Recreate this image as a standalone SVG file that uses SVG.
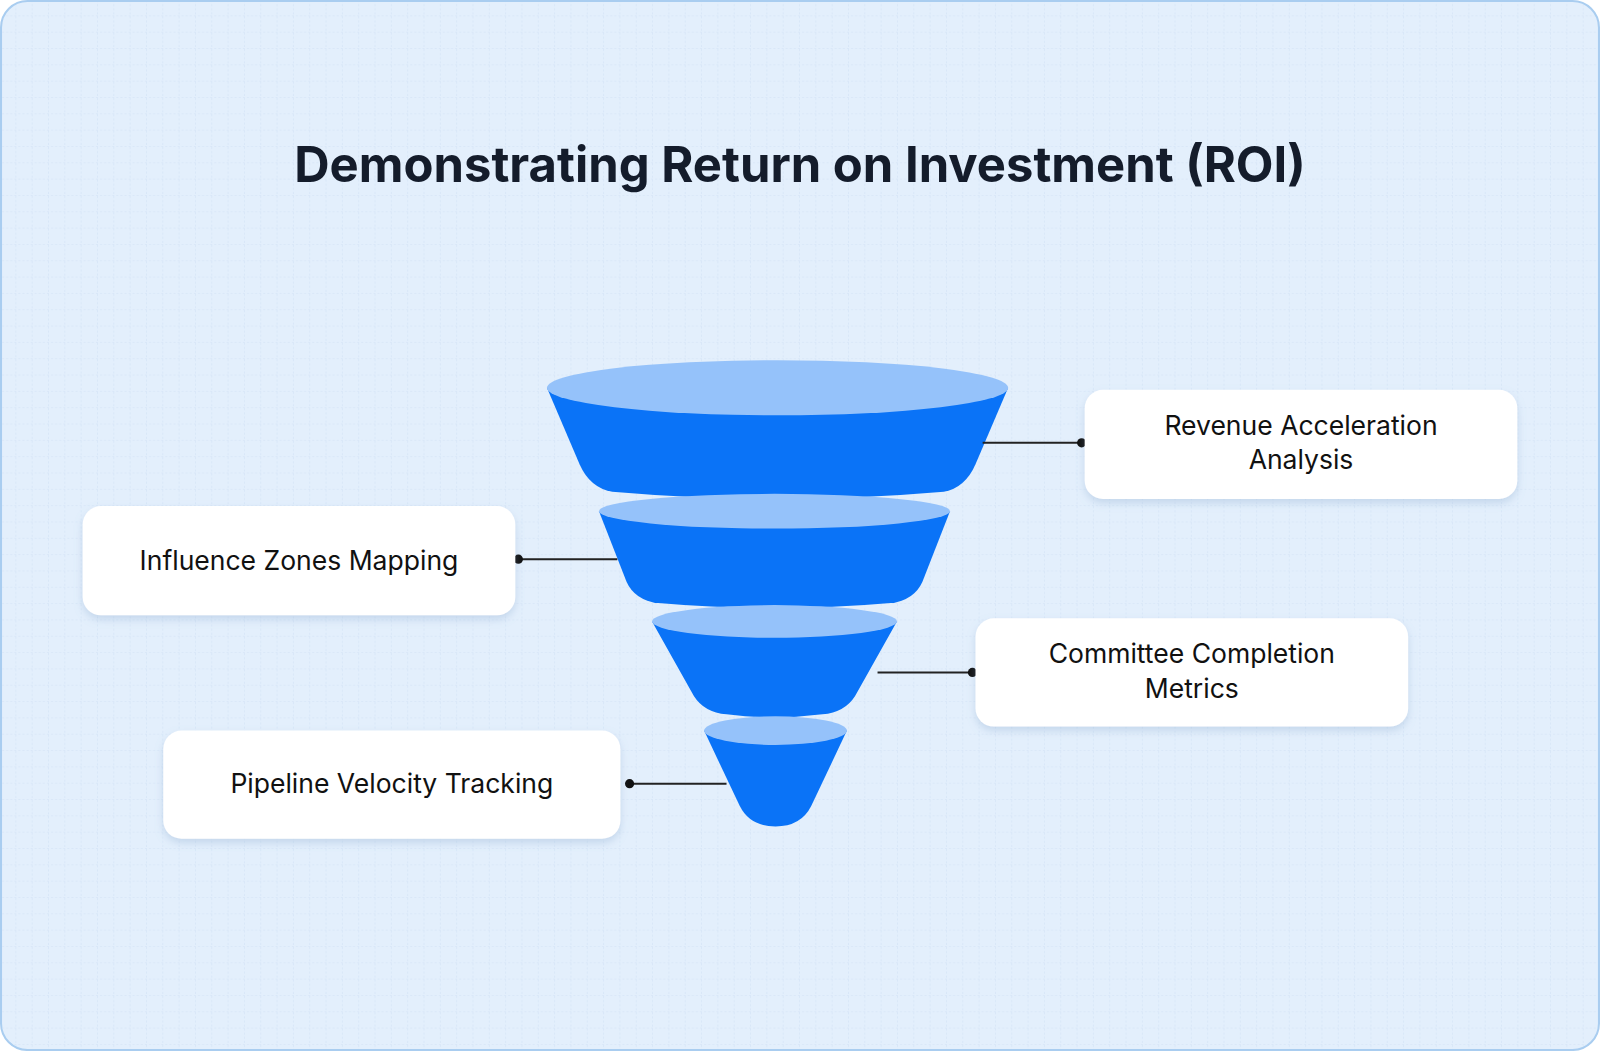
<svg xmlns="http://www.w3.org/2000/svg" width="1600" height="1051" viewBox="0 0 1600 1051">
<defs>
<pattern id="grid" width="16" height="16" patternUnits="userSpaceOnUse"><path d="M16 0V16H0" fill="none" stroke="#cfe0f3" stroke-width="1" stroke-dasharray="2 2"/></pattern>
<filter id="sh" x="-10%" y="-20%" width="120%" height="150%"><feDropShadow dx="0" dy="4" stdDeviation="4" flood-color="#7a9cc4" flood-opacity="0.3"/></filter>
<style>
.box{fill:#fff;filter:url(#sh)}
.lbl{font-family:Inter,"Noto Sans",sans-serif;font-size:26px;fill:#111;text-anchor:middle}
.body{fill:#0A73F7}
.top{fill:#95C2FA}
.ln{stroke:#222;stroke-width:2}
</style>
</defs>
<g transform="scale(1.0204)">
<rect x="1" y="1" width="1566" height="1028" rx="26" fill="#E3EFFC" stroke="#A9CDF0" stroke-width="2"/>
<rect x="2" y="2" width="1564" height="1026" rx="26" fill="url(#grid)"/>
<text x="784" y="178" font-family="Inter,'Noto Sans',sans-serif" font-size="48" font-weight="700" fill="#141c2b" text-anchor="middle">Demonstrating Return on Investment (ROI)</text>
<g id="funnel">
<path class="body" d="M536,380 L568,455 Q578,478 600,482 Q762,496 925,482 Q946,478 956,455 L988,380 Z"/>
<ellipse class="top" cx="762" cy="380" rx="226" ry="27"/>
<path class="body" d="M587,501 L614,570 Q622,588 645,591 Q759,601 873,591 Q896,588 904,570 L931,501 Z"/>
<ellipse class="top" cx="759" cy="501" rx="172" ry="17"/>
<path class="body" d="M639,609 L680,682 Q690,698 712,700 Q759,706 806,700 Q828,698 838,682 L879,609 Z"/>
<ellipse class="top" cx="759" cy="609" rx="120" ry="16"/>
<path class="body" d="M690,716 L725,790 Q735,810 760,810 Q785,810 795,790 L830,716 Z"/>
<ellipse class="top" cx="760" cy="716" rx="70" ry="14"/>
</g>
<g id="connectors">
<line class="ln" x1="963" y1="434" x2="1060" y2="434"/><circle cx="1060" cy="434" r="4.5" fill="#111"/>
<line class="ln" x1="508" y1="548" x2="605" y2="548"/><circle cx="508" cy="548" r="4.5" fill="#111"/>
<line class="ln" x1="860" y1="659" x2="953" y2="659"/><circle cx="953" cy="659" r="4.5" fill="#111"/>
<line class="ln" x1="617" y1="768" x2="712" y2="768"/><circle cx="617" cy="768" r="4.5" fill="#111"/>
</g>
<g id="n1"><rect class="box" x="1063" y="382" width="424" height="107" rx="18"/><text class="lbl" x="1275" y="426">Revenue Acceleration</text><text class="lbl" x="1275" y="460">Analysis</text></g>
<g id="n2"><rect class="box" x="81" y="496" width="424" height="107" rx="18"/><text class="lbl" x="293" y="559">Influence Zones Mapping</text></g>
<g id="n3"><rect class="box" x="956" y="606" width="424" height="106" rx="18"/><text class="lbl" x="1168" y="650">Committee Completion</text><text class="lbl" x="1168" y="684">Metrics</text></g>
<g id="n4"><rect class="box" x="160" y="716" width="448" height="106" rx="18"/><text class="lbl" x="384" y="777">Pipeline Velocity Tracking</text></g>
</g>
</svg>
